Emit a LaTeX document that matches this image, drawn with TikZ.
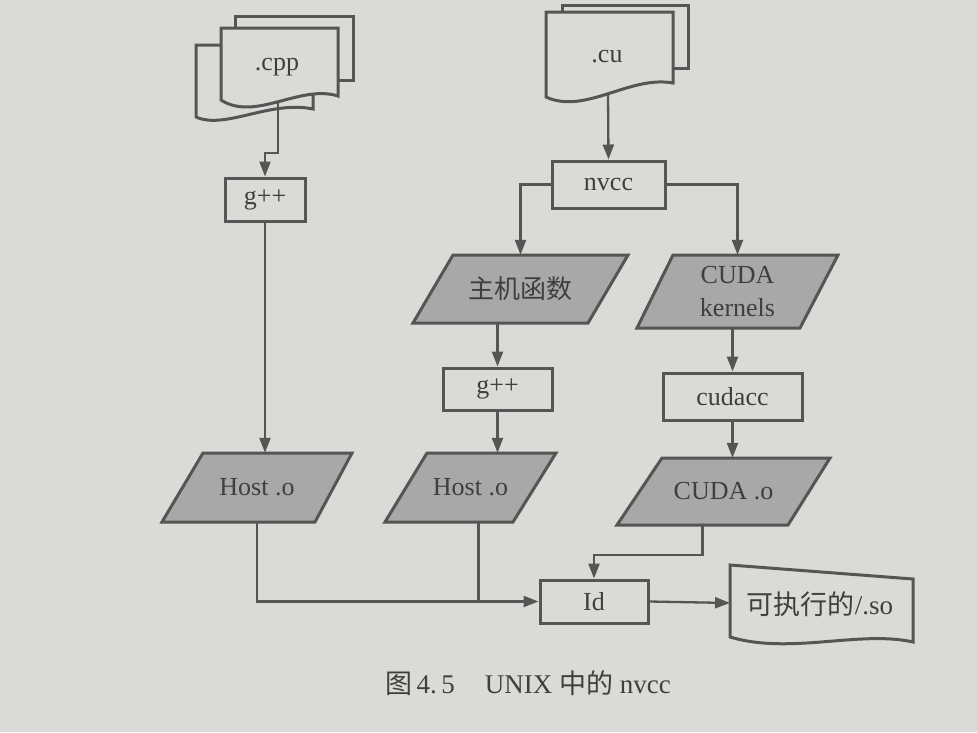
\documentclass[tikz,border=0pt]{standalone}
\usepackage{fontspec}
\setmainfont{Liberation Serif}
\newfontfamily\cjk{Noto Sans CJK SC}
\usetikzlibrary{arrows.meta,calc}
\definecolor{paper}{HTML}{DCDAD6}
\definecolor{ink}{HTML}{555555}
\definecolor{txt}{HTML}{3F3F3F}
\definecolor{pfill}{HTML}{A8A8A8}
\newcommand\parab[8]{%
  \draw[pbox] (#2,#7) -- (#3,#6) -- (#4,#6) -- (#5,#7) -- cycle;
  \pgfmathsetmacro\myPcx{(#2+#4)/2}\pgfmathsetmacro\myPcy{(#6+#7)/2}%
  \pgfmathsetmacro\myPw{#4-#2}\pgfmathsetmacro\myPh{#7-#6}%
  \node[ptext, minimum width=\myPw pt, minimum height=\myPh pt] (#1) at (\myPcx,\myPcy) {#8};}
\begin{document}
\begin{tikzpicture}[x=1pt,y=-1pt,
  box/.style={draw=ink, line width=3pt, fill=paper, text=txt, font=\fontsize{26}{31}\selectfont, inner sep=0pt},
  pbox/.style={draw=ink, line width=3pt, fill=pfill, line join=miter},
  ptext/.style={text=txt, font=\fontsize{26}{33}\selectfont, inner sep=0pt, align=center},
  doc/.style={draw=ink, line width=3pt, fill=paper, line join=miter},
  conn/.style={draw=ink, line width=2.3pt},
  arr/.style={conn, -{Triangle[length=15pt,width=11pt]}}]
\useasboundingbox[fill=paper] (0,0) rectangle (977,732);

% .cpp document stack
\draw[doc] (235,80) -- (235,16) -- (353,16) -- (353,80) -- cycle;
\draw[doc] (196,117) -- (196,45) -- (313,45) -- (313,109) .. controls (270,100) and (225,130) .. (196,117) -- cycle;
\draw[doc] (221,100) -- (221,28) -- (338,28) -- (338,96) .. controls (300,84) and (255,122) .. (221,100) -- cycle;
\node[ptext] (cpp) at (277,67) {.cpp};
\coordinate (cppout) at (278,102);

% .cu document stack
\draw[doc] (562,68) -- (562,5) -- (688,5) -- (688,68) -- cycle;
\draw[doc] (546,97) -- (546,12) -- (673,12) -- (673,83) .. controls (630,75) and (585,115) .. (546,97) -- cycle;
\node[ptext] (cu) at (607,57) {.cu};
\coordinate (cuout) at (608,94);

% output document
\draw[doc] (730,637) -- (730,565) -- (913,579) -- (913,642) .. controls (860,630) and (790,655) .. (730,637) -- cycle;
\node[ptext, font=\fontsize{27}{32}\selectfont] (out) at (820,604) {{\cjk 可执行的}/.so};
\coordinate (outin) at (730,603);

% process boxes
\node[box, minimum width=80pt, minimum height=43pt] (g1) at (265,199.5) {g++};
\node[box, minimum width=113pt, minimum height=47pt] (nv) at (608.5,184.5) {nvcc};
\node[box, minimum width=109pt, minimum height=42pt] (g2) at (497.5,389) {g++};
\node[box, minimum width=139pt, minimum height=47pt] (cc) at (732.5,396.5) {cudacc};
\node[box, minimum width=108pt, minimum height=43pt] (ld) at (594,601.5) {Id};

% data parallelograms
\parab{zj}{413}{453}{628}{588}{255}{323}{{\cjk 主机函数}}
\parab{ck}{637}{673}{838}{800}{255}{328}{CUDA\\kernels}
\parab{h1}{162}{203}{352}{315}{453}{522}{Host .o}
\parab{h2}{385}{427}{556}{513}{453}{522}{Host .o}
\parab{co}{617}{662}{830}{788}{458}{525}{CUDA .o}

% connectors
\draw[arr] (cppout) -- ++(0,51) -| (g1.north);
\draw[arr] (g1.south) -- (g1.south |- h1.north);
\draw[arr] (h1.south) |- (ld.west);
\draw[arr] (cuout) -- (nv.north);
\draw[arr] (nv.west) -| (zj.north);
\draw[arr] (nv.east) -| (ck.north);
\draw[arr] (g2.north |- zj.south) -- (g2.north);
\draw[arr] (g2.south) -- (g2.south |- h2.north);
\coordinate (h2out) at ($(h2.south)+(8,0)$);
\draw[conn] (h2out) -- (h2out |- ld.west);
\draw[arr] (cc.north |- ck.south) -- (cc.north);
\draw[arr] (cc.south) -- (cc.south |- co.north);
\coordinate (coout) at ($(co.south)+(-21,0)$);
\draw[arr] (coout) -- ++(0,30) -| (ld.north);
\draw[arr] (ld.east) -- (outin);

% caption
\node[text=txt, font=\fontsize{27}{32}\selectfont, inner sep=0pt] (cap) at (528,683)
  {{\cjk 图}\,4.\,5\hspace{30pt}UNIX {\cjk 中的} nvcc};
\end{tikzpicture}
\end{document}
